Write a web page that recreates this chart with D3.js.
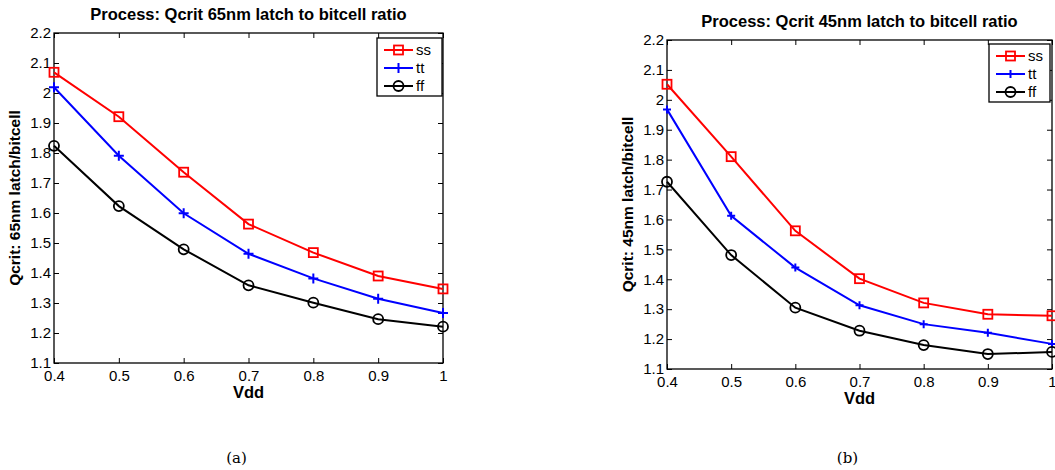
<!DOCTYPE html>
<html>
<head>
<meta charset="utf-8">
<script src="https://cdn.jsdelivr.net/npm/d3@7"></script>
<style>
  body { margin: 0; background: #fff; }
  svg text { font-family: "Liberation Sans", Arial, sans-serif; }
</style>
</head>
<body>
<div id="chart"></div>
<script>
var width = 1055,
    height = 470;

// Vdd sweep, shared by both panels
var vdd = [0.4, 0.5, 0.6, 0.7, 0.8, 0.9, 1.0];
var yTicks = [1.1, 1.2, 1.3, 1.4, 1.5, 1.6, 1.7, 1.8, 1.9, 2.0, 2.1, 2.2];
var seriesNames = ["ss", "tt", "ff"];

// 65nm panel
var ss65 = [2.069, 1.921, 1.736, 1.563, 1.468, 1.390, 1.347];
var tt65 = [2.019, 1.791, 1.599, 1.464, 1.382, 1.314, 1.267];
var ff65 = [1.824, 1.623, 1.479, 1.359, 1.301, 1.246, 1.221];

// 45nm panel
var ss45 = [2.052, 1.810, 1.562, 1.402, 1.321, 1.283, 1.278];
var tt45 = [1.968, 1.612, 1.439, 1.313, 1.250, 1.221, 1.184];
var ff45 = [1.726, 1.481, 1.305, 1.228, 1.180, 1.150, 1.157];

var colors = { ss: "#ff0000", tt: "#0000ff", ff: "#000000" };

var svg = d3.select("#chart").append("svg")
    .attr("width", width)
    .attr("height", height);

drawPanel({
  left: 54, right: 443, top: 33, bottom: 363,
  title: "Process: Qcrit 65nm latch to bitcell ratio",
  ylabel: "Qcrit: 65nm latch/bitcell",
  ylabelX: 20,
  caption: "(a)",
  series: [ss65, tt65, ff65],
  plusSize: 5,
  legend: { x: 377, y: 38, w: 65, h: 58 }
});

drawPanel({
  left: 667, right: 1052, top: 40, bottom: 369,
  title: "Process: Qcrit 45nm latch to bitcell ratio",
  ylabel: "Qcrit: 45nm latch/bitcell",
  ylabelX: 633,
  caption: "(b)",
  series: [ss45, tt45, ff45],
  plusSize: 4,
  legend: { x: 989, y: 44, w: 61, h: 58 }
});

function drawPanel(cfg) {
  var x = d3.scaleLinear().domain([0.4, 1.0]).range([cfg.left, cfg.right]);
  var y = d3.scaleLinear().domain([1.1, 2.2]).range([cfg.bottom, cfg.top]);
  var fmt = function(d) { return String(+d.toFixed(1)); };

  var g = svg.append("g");

  // ticks pointing inwards on all four sides (matlab box)
  g.append("g")
      .attr("transform", "translate(0," + cfg.bottom + ")")
      .call(d3.axisBottom(x).tickValues(vdd).tickFormat(fmt).tickSizeInner(-5).tickSizeOuter(0).tickPadding(7))
      .call(styleAxis);
  g.append("g")
      .attr("transform", "translate(0," + cfg.top + ")")
      .call(d3.axisTop(x).tickValues(vdd).tickFormat("").tickSizeInner(-5).tickSizeOuter(0))
      .call(styleAxis);
  g.append("g")
      .attr("transform", "translate(" + cfg.left + ",0)")
      .call(d3.axisLeft(y).tickValues(yTicks).tickFormat(fmt).tickSizeInner(-5).tickSizeOuter(0).tickPadding(3))
      .call(styleAxis);
  g.append("g")
      .attr("transform", "translate(" + cfg.right + ",0)")
      .call(d3.axisRight(y).tickValues(yTicks).tickFormat("").tickSizeInner(-5).tickSizeOuter(0))
      .call(styleAxis);

  g.append("rect")
      .attr("x", cfg.left).attr("y", cfg.top)
      .attr("width", cfg.right - cfg.left).attr("height", cfg.bottom - cfg.top)
      .attr("fill", "none").attr("stroke", "#000").attr("stroke-width", 1.3);

  // title and labels
  g.append("text")
      .attr("x", (cfg.left + cfg.right) / 2).attr("y", cfg.top - 13)
      .attr("text-anchor", "middle")
      .style("font-size", "16.5px").style("font-weight", "bold")
      .text(cfg.title);
  g.append("text")
      .attr("x", (cfg.left + cfg.right) / 2).attr("y", cfg.bottom + 35)
      .attr("text-anchor", "middle")
      .style("font-size", "16.5px").style("font-weight", "bold")
      .text("Vdd");
  g.append("text")
      .attr("transform", "translate(" + cfg.ylabelX + "," + ((cfg.top + cfg.bottom) / 2) + ") rotate(-90)")
      .attr("text-anchor", "middle")
      .style("font-size", "15.5px").style("font-weight", "bold")
      .text(cfg.ylabel);
  g.append("text")
      .attr("x", (cfg.left + cfg.right) / 2 - 12).attr("y", 463)
      .attr("text-anchor", "middle")
      .style("font-family", "'DejaVu Serif', 'Liberation Serif', serif")
      .style("font-size", "15px")
      .text(cfg.caption);

  var line = d3.line()
      .x(function(d, i) { return x(vdd[i]); })
      .y(function(d) { return y(d); });

  cfg.series.forEach(function(values, k) {
    var name = seriesNames[k];
    g.append("path")
        .datum(values)
        .attr("d", line)
        .attr("fill", "none")
        .attr("stroke", colors[name])
        .attr("stroke-width", 2);

    values.forEach(function(v, i) {
      marker(g, name, x(vdd[i]), y(v), cfg.plusSize);
    });
  });

  // legend
  var L = cfg.legend;
  var lg = g.append("g");
  lg.append("rect")
      .attr("x", L.x).attr("y", L.y).attr("width", L.w).attr("height", L.h)
      .attr("fill", "#fff").attr("stroke", "#000").attr("stroke-width", 1.3);
  seriesNames.forEach(function(name, k) {
    var yy = L.y + 12 + k * 18;
    lg.append("line")
        .attr("x1", L.x + 7).attr("x2", L.x + 36)
        .attr("y1", yy).attr("y2", yy)
        .attr("stroke", colors[name]).attr("stroke-width", 2);
    marker(lg, name, L.x + 21.5, yy, cfg.plusSize);
    lg.append("text")
        .attr("x", L.x + 39).attr("y", yy + 5)
        .style("font-size", "15px")
        .text(name);
  });
}

function marker(g, name, cx, cy, plusSize) {
  if (name === "ss") {
    g.append("rect")
        .attr("x", cx - 4.5).attr("y", cy - 4.5)
        .attr("width", 9).attr("height", 9)
        .attr("fill", "none").attr("stroke", colors.ss).attr("stroke-width", 1.8);
  } else if (name === "tt") {
    g.append("path")
        .attr("d", "M" + (cx - plusSize) + "," + cy + "H" + (cx + plusSize) +
                   "M" + cx + "," + (cy - plusSize) + "V" + (cy + plusSize))
        .attr("stroke", colors.tt).attr("stroke-width", 2);
  } else {
    g.append("circle")
        .attr("cx", cx).attr("cy", cy).attr("r", 5)
        .attr("fill", "none").attr("stroke", colors.ff).attr("stroke-width", 1.8);
  }
}

function styleAxis(sel) {
  sel.select(".domain").remove();
  sel.selectAll(".tick line").attr("stroke", "#000");
  sel.selectAll(".tick text").style("font-size", "15px").attr("fill", "#000");
}
</script>
</body>
</html>
